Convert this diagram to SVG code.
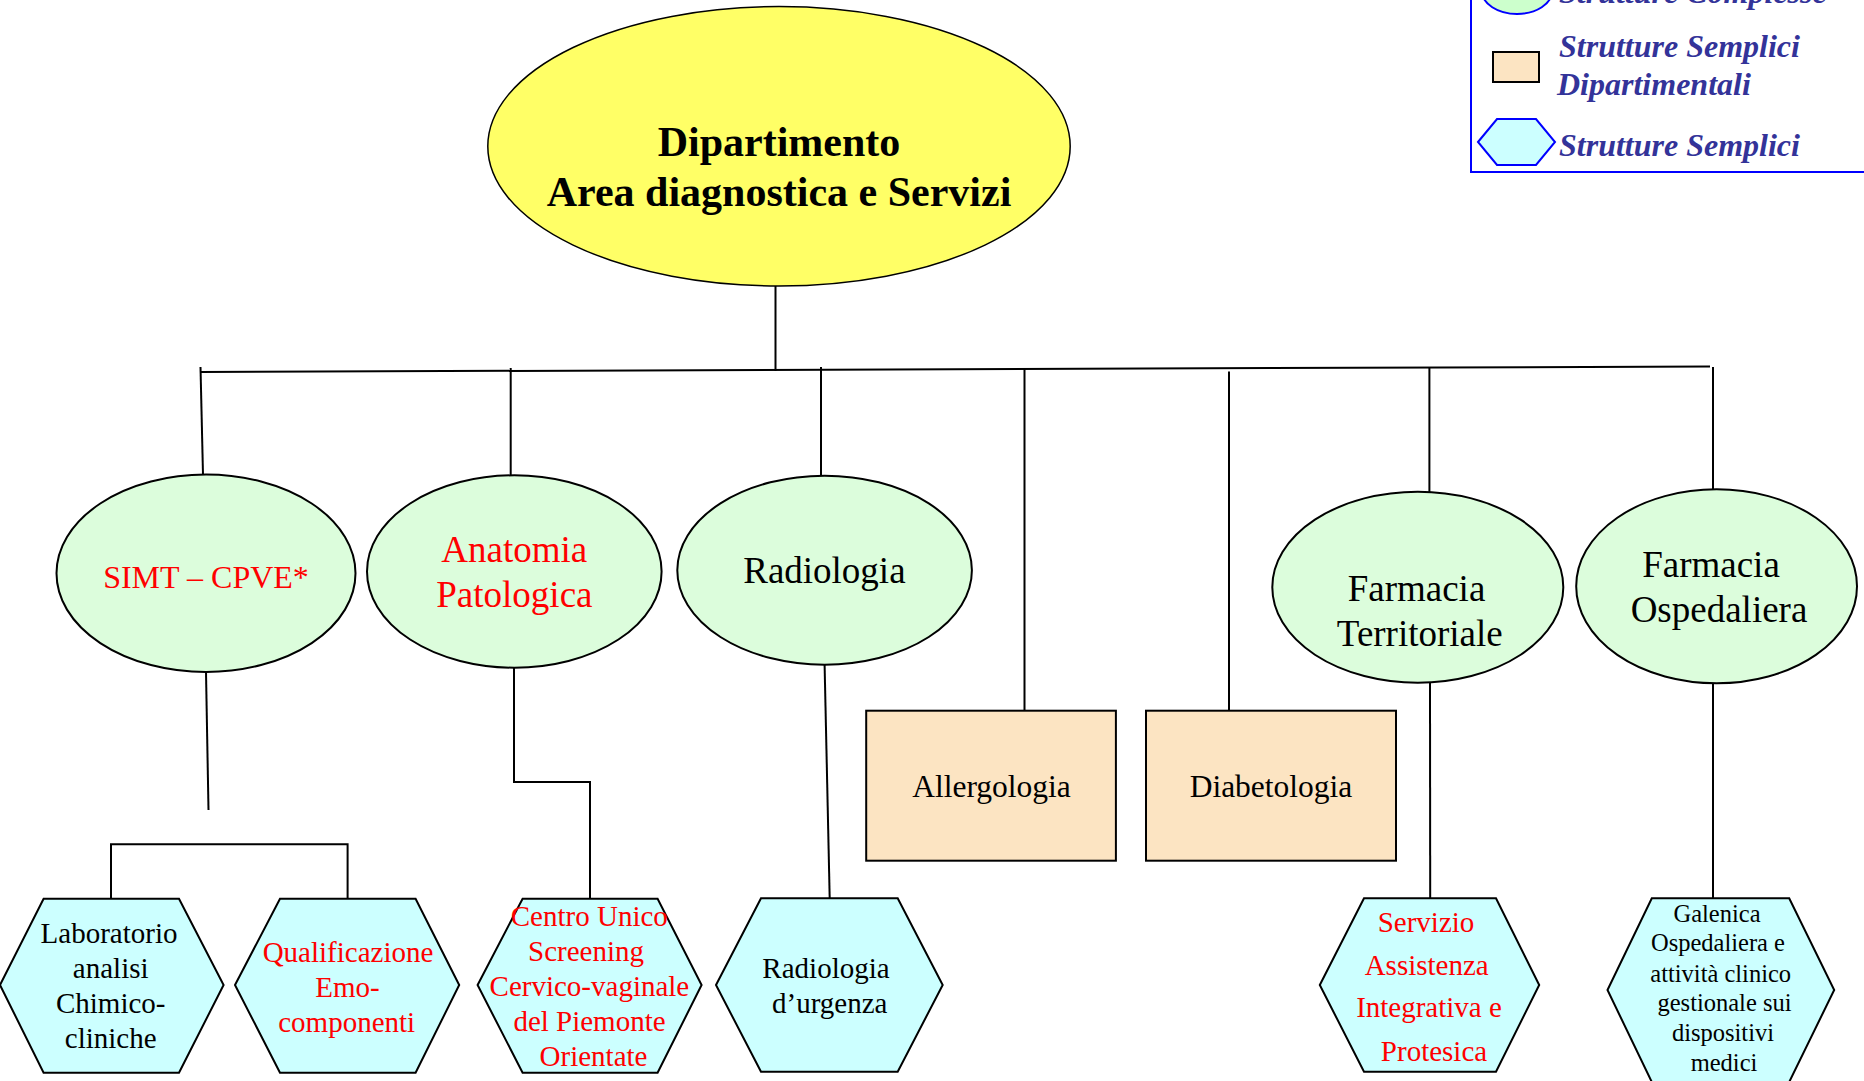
<svg xmlns="http://www.w3.org/2000/svg" width="1864" height="1081" viewBox="0 0 1864 1081">
<style>
  .conn { fill: none; stroke: #000; stroke-width: 2; }
  .ell { fill: #DCFDDC; stroke: #000; stroke-width: 2; }
  .hex { fill: #CCFFFF; stroke: #000; stroke-width: 2; }
  .box { fill: #FCE4C2; stroke: #000; stroke-width: 2; }
  .t { font-family: "Liberation Serif", "Times New Roman", serif; text-anchor: middle; }
  .red { fill: #FF0000; }
  .blk { fill: #000; }
  .leg { font-family: "Liberation Serif", "Times New Roman", serif; font-weight: bold; font-style: italic; font-size: 32px; fill: #333399; }
</style>
<rect width="1864" height="1081" fill="#FFFFFF"/>

<g id="legend">
  <rect x="1471" y="-10" width="420" height="182" fill="none" stroke="#0000FF" stroke-width="2"/>
  <ellipse cx="1517" cy="-9" rx="35" ry="23" fill="#CCFFCC" stroke="#0000FF" stroke-width="2"/>
  <text class="leg" x="1559" y="3">Strutture Complesse</text>
  <rect x="1493" y="52" width="46" height="30" fill="#FCE4C2" stroke="#000" stroke-width="2"/>
  <text class="leg" x="1559" y="57">Strutture Semplici</text>
  <text class="leg" x="1557" y="95">Dipartimentali</text>
  <polygon points="1478,142 1497,119 1536,119 1555,142 1536,165 1497,165" fill="#CCFFFF" stroke="#0000FF" stroke-width="2"/>
  <text class="leg" x="1559" y="156">Strutture Semplici</text>
</g>

<g id="connectors">
  <line class="conn" x1="775.5" y1="286" x2="775.5" y2="371"/>
  <line class="conn" x1="200" y1="372" x2="1710" y2="366.5"/>
  <line class="conn" x1="200.5" y1="367" x2="203" y2="475"/>
  <line class="conn" x1="510.7" y1="368" x2="510.7" y2="475"/>
  <line class="conn" x1="821" y1="367" x2="821" y2="476"/>
  <line class="conn" x1="1024.5" y1="369" x2="1024.5" y2="711"/>
  <line class="conn" x1="1229" y1="371.5" x2="1229" y2="711"/>
  <line class="conn" x1="1429.4" y1="367" x2="1429.4" y2="492"/>
  <line class="conn" x1="1713" y1="367" x2="1713" y2="489.5"/>
  <line class="conn" x1="206" y1="672" x2="208.5" y2="810"/>
  <polyline class="conn" points="111,898.7 111,844.3 347.6,844.3 347.6,898.7"/>
  <polyline class="conn" points="514,668 514,782 590,782 590,898.7"/>
  <line class="conn" x1="824.6" y1="665" x2="829.7" y2="898.3"/>
  <line class="conn" x1="1430" y1="683" x2="1430.2" y2="898.3"/>
  <line class="conn" x1="1713" y1="683" x2="1713" y2="898.3"/>
</g>

<g id="dipartimento">
  <ellipse cx="779" cy="146.3" rx="291.2" ry="139.7" fill="#FFFF66" stroke="#000" stroke-width="1.5"/>
  <text class="t blk" x="779" y="156" font-size="42" font-weight="bold">Dipartimento</text>
  <text class="t blk" x="779" y="206" font-size="42" font-weight="bold">Area diagnostica e Servizi</text>
</g>

<g id="simt">
  <ellipse class="ell" cx="206" cy="573.3" rx="149.5" ry="98.7"/>
  <text class="t red" x="206" y="588.3" font-size="32">SIMT – CPVE*</text>
</g>

<g id="anatomia">
  <ellipse class="ell" cx="514.3" cy="571.5" rx="147.3" ry="96.2"/>
  <text class="t red" x="514.3" y="562.3" font-size="37">Anatomia</text>
  <text class="t red" x="514.4" y="607.3" font-size="37">Patologica</text>
</g>

<g id="radiologia">
  <ellipse class="ell" cx="824.6" cy="570.2" rx="147.3" ry="94.5"/>
  <text class="t blk" x="824.4" y="583.3" font-size="37">Radiologia</text>
</g>

<g id="farmacia-territoriale">
  <ellipse class="ell" cx="1417.8" cy="587.2" rx="145.5" ry="95.5"/>
  <text class="t blk" x="1416.5" y="600.7" font-size="37">Farmacia</text>
  <text class="t blk" x="1419.8" y="646" font-size="37">Territoriale</text>
</g>

<g id="farmacia-ospedaliera">
  <ellipse class="ell" cx="1716.6" cy="586.3" rx="140.4" ry="97"/>
  <text class="t blk" x="1711" y="576.7" font-size="37">Farmacia</text>
  <text class="t blk" x="1719" y="621.7" font-size="37">Ospedaliera</text>
</g>

<g id="allergologia">
  <rect class="box" x="866.2" y="710.7" width="249.7" height="150"/>
  <text class="t blk" x="991.5" y="796.7" font-size="31.5">Allergologia</text>
</g>

<g id="diabetologia">
  <rect class="box" x="1146" y="710.7" width="250" height="150"/>
  <text class="t blk" x="1271" y="796.7" font-size="31.5">Diabetologia</text>
</g>

<g id="laboratorio">
  <polygon class="hex" points="0,985 43.6,898.7 179,898.7 223.6,985 179,1072.7 43.6,1072.7"/>
  <text class="t blk" x="109" y="943.3" font-size="29">Laboratorio</text>
  <text class="t blk" x="110.7" y="978.3" font-size="29">analisi</text>
  <text class="t blk" x="110.7" y="1013.3" font-size="29">Chimico-</text>
  <text class="t blk" x="110.7" y="1048.3" font-size="29">cliniche</text>
</g>

<g id="qualificazione">
  <polygon class="hex" points="235,985 280,898.7 415.6,898.7 459.2,985 415.6,1072.7 280,1072.7"/>
  <text class="t red" x="348" y="961.7" font-size="29">Qualificazione</text>
  <text class="t red" x="347.4" y="996.7" font-size="29">Emo-</text>
  <text class="t red" x="346.7" y="1031.7" font-size="29">componenti</text>
</g>

<g id="centro-unico">
  <polygon class="hex" points="477.6,985 522.6,898.7 657.6,898.7 701.6,985 657.6,1072.7 522.6,1072.7"/>
  <text class="t red" x="589.3" y="926" font-size="29">Centro Unico</text>
  <text class="t red" x="586" y="961" font-size="29">Screening</text>
  <text class="t red" x="589.4" y="996" font-size="29">Cervico-vaginale</text>
  <text class="t red" x="589.5" y="1031" font-size="29">del Piemonte</text>
  <text class="t red" x="593.5" y="1066" font-size="29">Orientate</text>
</g>

<g id="radiologia-urgenza">
  <polygon class="hex" points="716,985 761,898.3 897.7,898.3 942.7,985 897.7,1071.7 761,1071.7"/>
  <text class="t blk" x="826" y="978.3" font-size="29">Radiologia</text>
  <text class="t blk" x="829.7" y="1013.3" font-size="29">d’urgenza</text>
</g>

<g id="servizio-assistenza">
  <polygon class="hex" points="1319.8,985 1364,898.3 1496,898.3 1539.2,985 1496,1071.7 1364,1071.7"/>
  <text class="t red" x="1426" y="932" font-size="29">Servizio</text>
  <text class="t red" x="1426.7" y="975" font-size="29">Assistenza</text>
  <text class="t red" x="1429" y="1017" font-size="29">Integrativa e</text>
  <text class="t red" x="1434" y="1061" font-size="29">Protesica</text>
</g>

<g id="galenica">
  <polygon class="hex" points="1607.5,990 1651.8,898.3 1789.2,898.3 1834.2,990 1789.2,1082 1651.8,1082"/>
  <text class="t blk" x="1717" y="922" font-size="24.5">Galenica</text>
  <text class="t blk" x="1718" y="951" font-size="24.5">Ospedaliera e</text>
  <text class="t blk" x="1720.7" y="981.5" font-size="24.5">attività clinico</text>
  <text class="t blk" x="1724.5" y="1011" font-size="24.5">gestionale sui</text>
  <text class="t blk" x="1723" y="1041" font-size="24.5">dispositivi</text>
  <text class="t blk" x="1724" y="1071" font-size="24.5">medici</text>
</g>
</svg>
